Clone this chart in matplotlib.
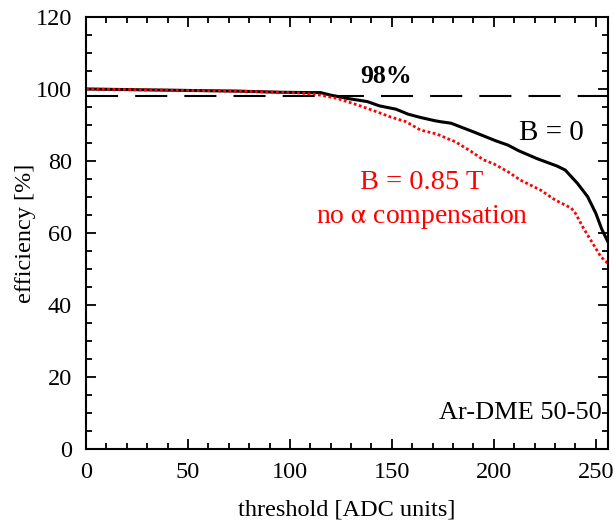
import matplotlib
matplotlib.use("Agg")
import matplotlib.pyplot as plt
from matplotlib.ticker import MultipleLocator

plt.rcParams['font.family'] = ['Liberation Serif', 'DejaVu Serif']
plt.rcParams['mathtext.fontset'] = 'stix'

# Data
thr_b0 = [0, 25, 50, 75, 95, 110, 115, 120, 128, 138, 144, 152, 158, 164, 171, 174, 179,
          190, 201, 207, 212, 221, 231, 235, 241, 246, 250, 253, 256]
eff_b0 = [100, 99.8, 99.6, 99.4, 99.1, 99.0, 99.0, 98.3, 97.4, 96.5, 95.3, 94.4, 93.0, 92.1,
          91.2, 90.9, 90.5, 88.1, 85.6, 84.4, 82.9, 80.7, 78.6, 77.5, 73.8, 70.1, 65.5, 61.0, 57.5]

thr_b085 = [0, 25, 50, 75, 95, 105, 112, 123, 133, 141, 149, 157, 164, 172, 179, 181, 189,
            195, 200, 207, 213, 223, 230, 238, 240, 244, 248, 252.5, 256]
eff_b085 = [100, 99.8, 99.6, 99.4, 99.1, 98.9, 98.6, 97.4, 95.6, 94.0, 92.3, 90.9, 88.6, 87.5,
            85.8, 85.4, 82.6, 80.3, 79.2, 77.0, 74.7, 71.9, 69.2, 66.9, 65.5, 61.3, 57.6, 53.4, 51.5]

ref_level = 98

fig = plt.figure(figsize=(6.15, 5.26), dpi=100)
ax = fig.add_axes([86/615, 1 - 449/526, (608-86)/615, (449-17)/526])

ax.axhline(ref_level, color='black', lw=1.5, linestyle=(0, (15.4, 8.2)), dash_capstyle='butt')
ax.plot(thr_b0, eff_b0, color='black', lw=2.2, solid_joinstyle='round')
ax.plot(thr_b085, eff_b085, color='red', lw=2.0, linestyle=(0, (1.0, 0.9)), dash_capstyle='butt')

ax.set_xlim(0, 256)
ax.set_ylim(0, 120)
ax.xaxis.set_major_locator(MultipleLocator(50))
ax.xaxis.set_minor_locator(MultipleLocator(10))
ax.yaxis.set_major_locator(MultipleLocator(20))
ax.yaxis.set_minor_locator(MultipleLocator(5))
ax.tick_params(which='both', direction='in', top=True, right=True, width=1.3, labelsize=17.5)
ax.tick_params(which='major', length=7)
ax.tick_params(which='minor', length=4)
ax.tick_params(axis='x', which='major', pad=9)
ax.tick_params(axis='y', which='major', pad=10)
for s in ax.spines.values():
    s.set_linewidth(1.5)

ax.set_xlabel('threshold [ADC units]', fontsize=17.5, labelpad=12)
ax.set_ylabel('efficiency [%]', fontsize=17.5, labelpad=0)

ax.text(147, 103.6, '98%', fontsize=18.5, fontweight='bold', ha='center', va='center')
ax.text(228, 87.8, 'B = 0', fontsize=21, ha='center', va='center')
ax.text(164.5, 73.9, 'B = 0.85 T', fontsize=20.5, ha='center', va='center', color='red')
ax.text(165, 64.4, 'no $\\mathrm{\\alpha}$ compensation', fontsize=20, ha='center', va='center', color='red')
ax.text(253, 10, 'Ar-DME 50-50', fontsize=19, ha='right', va='center')

fig.savefig('out.png', dpi=100)
